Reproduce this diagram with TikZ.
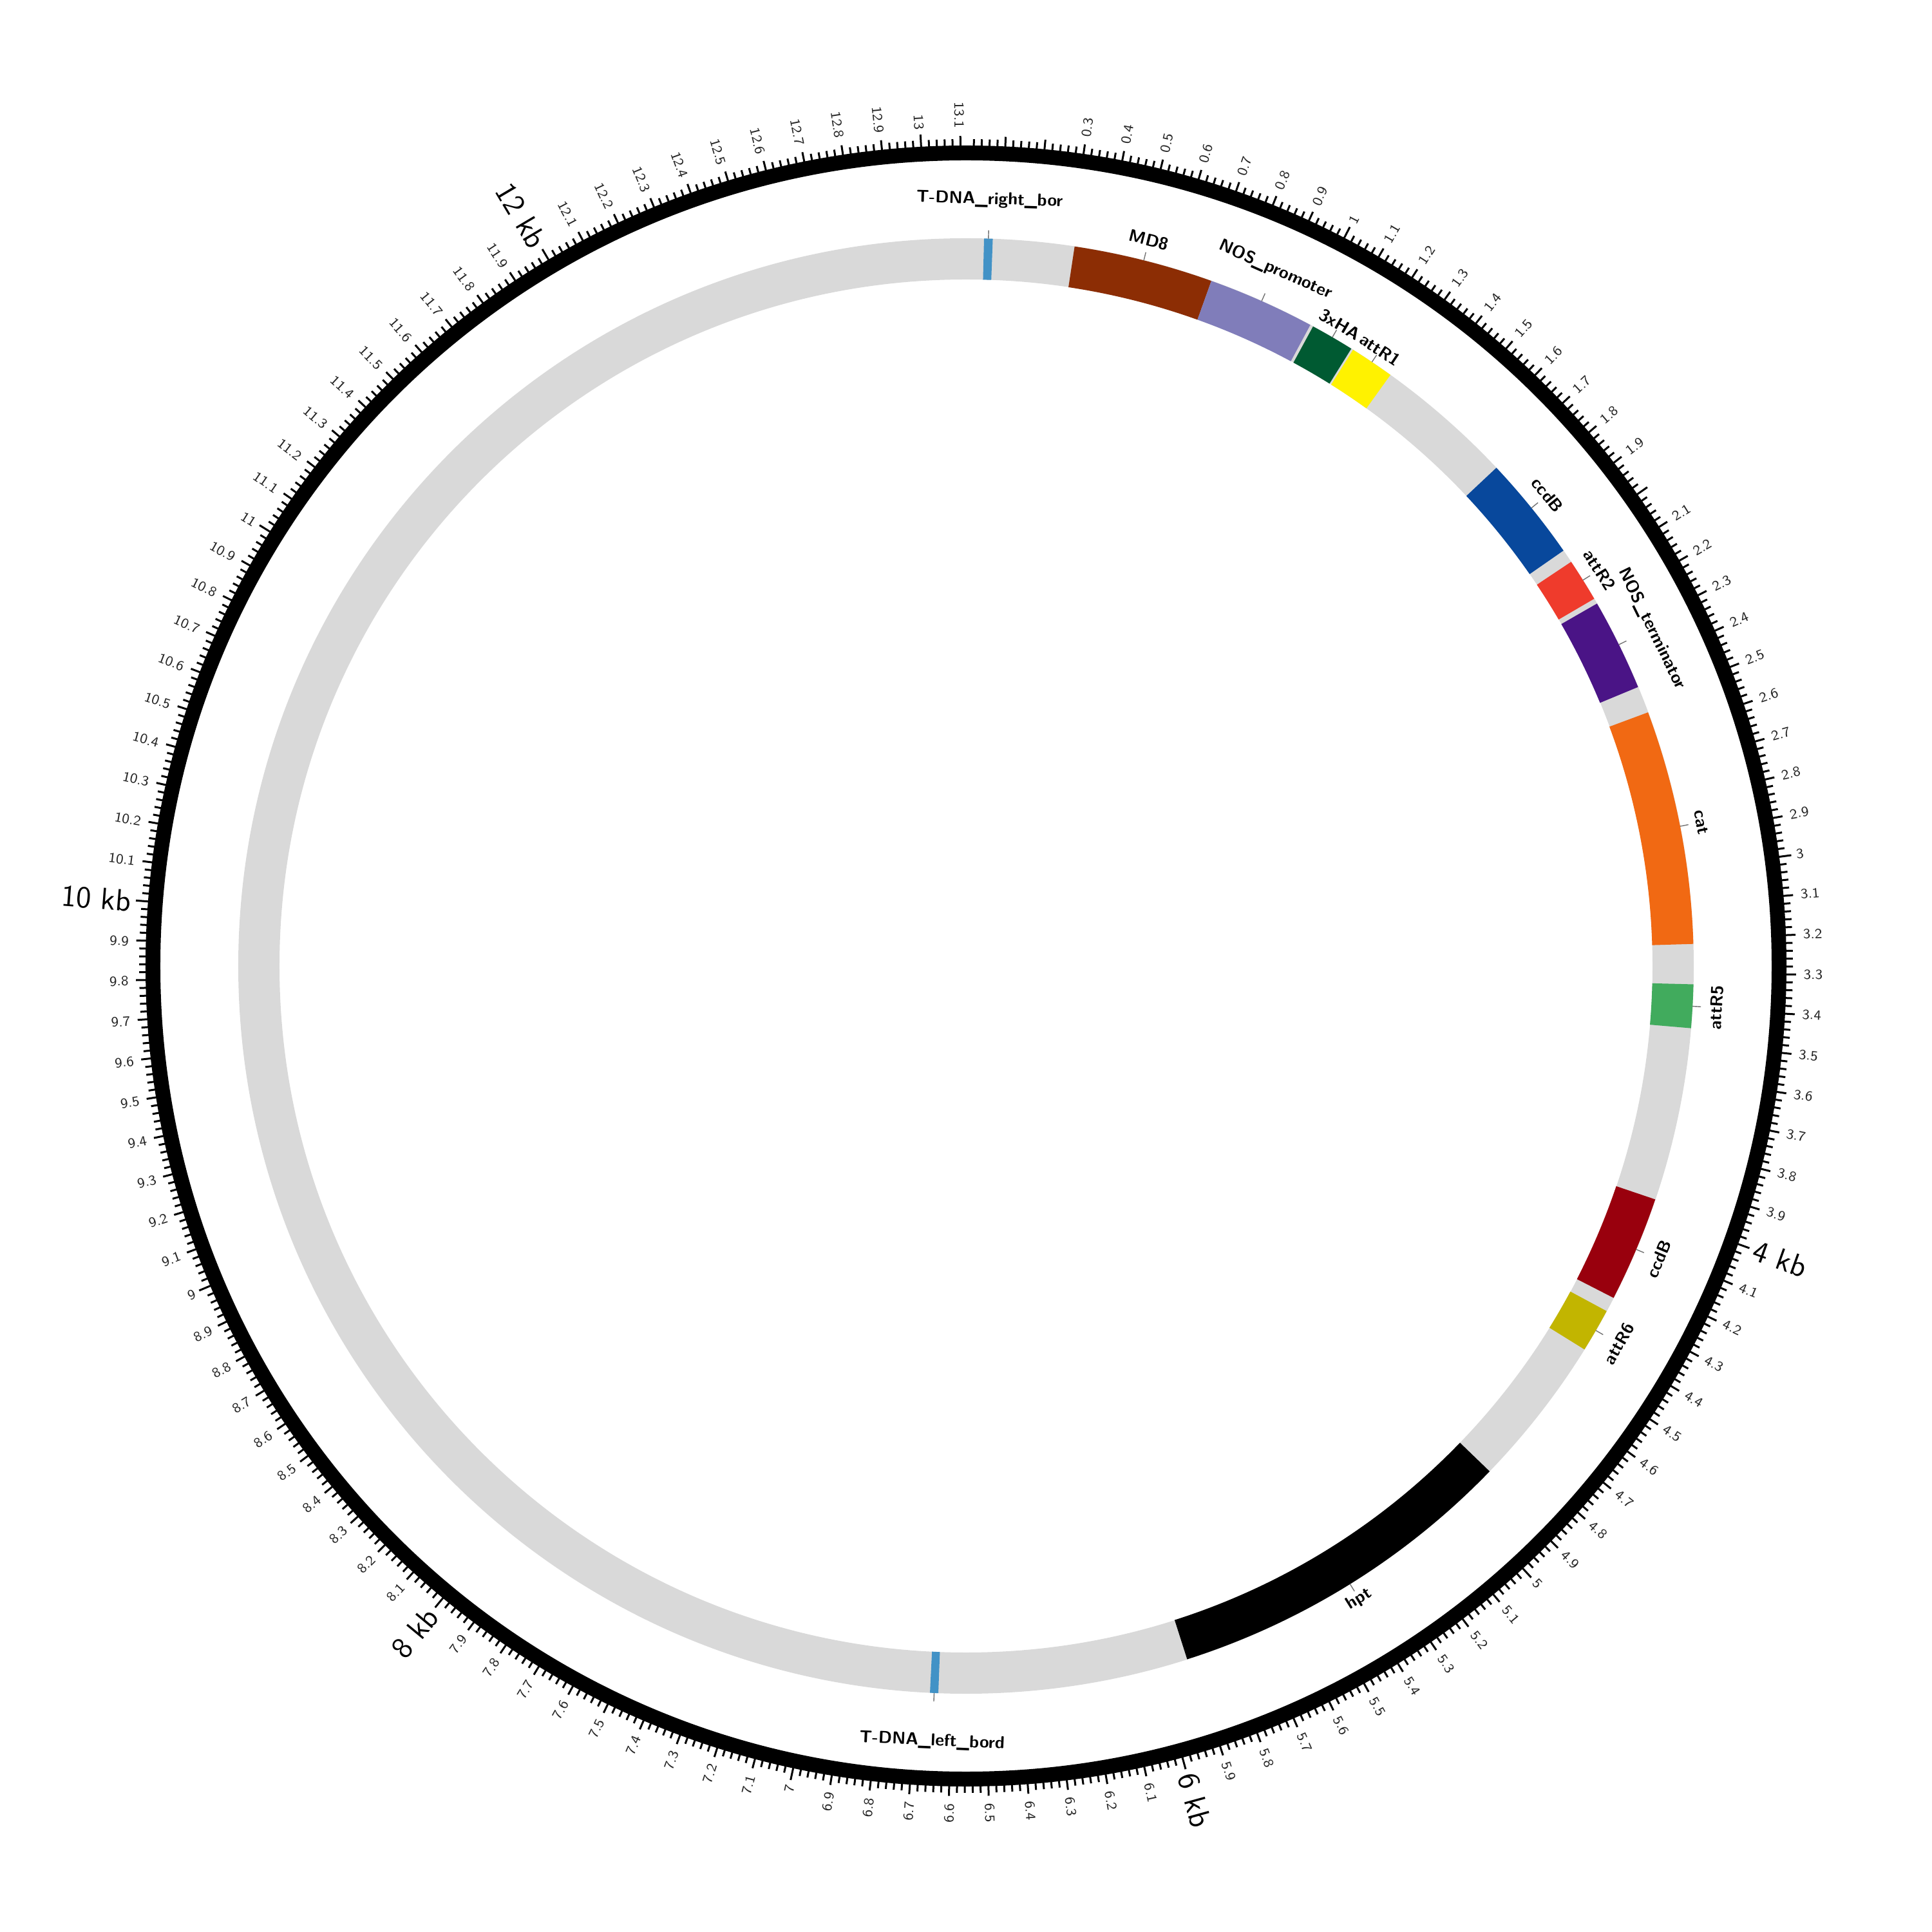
\documentclass[tikz,border=0pt]{standalone}
\usepackage{tikz}
\usetikzlibrary{calc}

% feature colours
\definecolor{ringgray}{HTML}{D9D9D9}
\definecolor{borderblue}{HTML}{4292C6}
\definecolor{mdbrown}{HTML}{8C2D04}
\definecolor{nospurple}{HTML}{807DBA}
\definecolor{hagreen}{HTML}{005A32}
\definecolor{attyellow}{HTML}{FFF200}
\definecolor{ccdblue}{HTML}{08489C}
\definecolor{attred}{HTML}{EF3B2C}
\definecolor{nosviolet}{HTML}{4A1486}
\definecolor{catorange}{HTML}{F16913}
\definecolor{attgreen}{HTML}{41AB5D}
\definecolor{ccdred}{HTML}{99000D}
\definecolor{attolive}{HTML}{C2B500}

\begin{document}
\begin{tikzpicture}[
		every node/.style={font=\sffamily},
		ticklabel/.style={font=\sffamily\fontsize{6.2}{7}\selectfont, inner sep=0pt, text=black!85},
		kblabel/.style={font=\sffamily\fontsize{13.5}{15}\selectfont, inner sep=0pt},
		featlabel/.style={font=\sffamily\bfseries\fontsize{7.6}{9}\selectfont, inner sep=0pt},
		tickmark/.style={line width=0.03cm},
		leader/.style={draw=black!55, line width=0.4pt}
		]
		\useasboundingbox (-15,-15) rectangle (15,15);
		
		% backbone ring
		\draw[ringgray, line width=0.64cm] (0,0) circle[radius=10.98];
		
		% features: name/start/end/colour/label/label radius (bp of 13117)
		\foreach \nm/\s/\e/\col/\lab/\rl in {
			rb/52/77/borderblue/{T-DNA\_right\_bor}/11.90,
			md/313/718/mdbrown/MD8/11.63,
			nosp/718/1029/nospurple/{NOS\_promoter}/11.83,
			ha/1038/1165/hagreen/3xHA/11.53,
			attrA/1171/1300/attyellow/attR1/11.53,
			ccdA/1705/2011/ccdblue/ccdB/11.62,
			attrB/2050/2175/attred/attR2/11.60,
			nost/2191/2458/nosviolet/{NOS\_terminator}/11.87,
			cat/2536/3216/catorange/cat/11.63,
			attrC/3332/3458/attgreen/attR5/11.67,
			ccdZ/3961/4268/ccdred/ccdB/11.68,
			attrD/4311/4438/attolive/attR6/11.71,
			hpt/4882/5914/black/hpt/11.57,
			lb/6638/6662/borderblue/{T-DNA\_left\_bord}/12.05}
		{
			\pgfmathsetmacro\aS{90-\s/13117*360}
			\pgfmathsetmacro\aE{90-\e/13117*360}
			\pgfmathsetmacro\aM{(\aS+\aE)/2}
			\pgfmathsetmacro\rot{\aM>=0 ? \aM-90 : \aM+90}
			\fill[\col] (\aS:11.30) arc[start angle=\aS, end angle=\aE, radius=11.30]
				-- (\aE:10.66) arc[start angle=\aE, end angle=\aS, radius=10.66] -- cycle;
			\coordinate (\nm-edge) at (\aM:11.30);
			\coordinate (\nm-tip) at (\aM:11.43);
			\draw[leader] (\nm-edge) -- (\nm-tip);
			\node[featlabel, rotate=\rot] (\nm) at (\aM:\rl) {\lab};
		}
		
		% scale ring and ticks (every 20 bp)
		\draw[black, line width=0.23cm] (0,0) circle[radius=12.625];
		\foreach \i in {1,...,655}{
			\pgfmathsetmacro\ta{90-\i*0.02*360/13.117}
			\pgfmathsetmacro\tr{mod(\i,50)==0 ? 12.93 : (mod(\i,5)==0 ? 12.89 : 12.84)}
			\draw[tickmark] (\ta:12.6) -- (\ta:\tr);
		}
		
		% small scale labels (every 100 bp)
		\foreach \i in {3,...,131}{
			\pgfmathtruncatemacro\whole{\i/10}
			\pgfmathtruncatemacro\tenth{\i-10*\whole}
			\pgfmathtruncatemacro\noLabel{(\tenth==0)&&(mod(\whole,2)==0)}
			\ifnum\noLabel=0
				\ifnum\tenth=0 \def\txt{\whole}\else\def\txt{\whole.\tenth}\fi
				\pgfmathsetmacro\la{90-\i*36/13.117}
				\pgfmathsetmacro\lb{\la+180}
				\ifdim\la pt>-90pt
					\node[ticklabel, anchor=west, rotate=\la] (t\i) at (\la:13.0) {\txt};
				\else
					\node[ticklabel, anchor=east, rotate=\lb] (t\i) at (\la:13.0) {\txt};
				\fi
			\fi
		}
		
		% kb labels
		\foreach \k in {4,6,8,10,12}{
			\pgfmathsetmacro\ka{90-\k*360/13.117}
			\pgfmathsetmacro\kb{\ka+180}
			\ifdim\ka pt>-90pt
				\node[kblabel, anchor=west, rotate=\ka] (kb\k) at (\ka:13.0) {\k\ kb};
			\else
				\node[kblabel, anchor=east, rotate=\kb] (kb\k) at (\ka:13.0) {\k\ kb};
			\fi
		}
	\end{tikzpicture}
\end{document}
